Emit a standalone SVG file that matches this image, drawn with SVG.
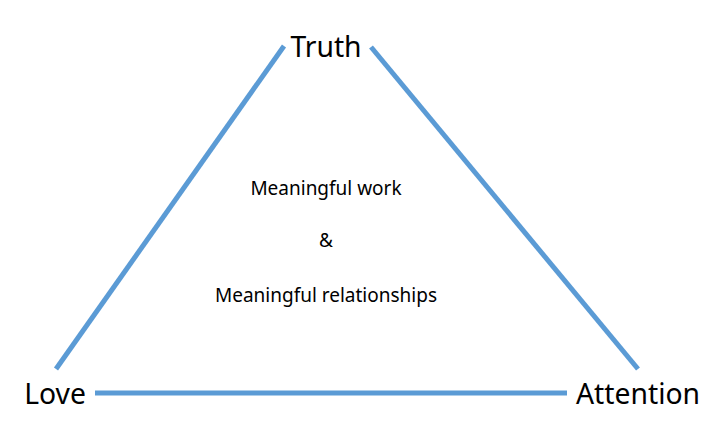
<svg xmlns="http://www.w3.org/2000/svg" width="714" height="434" viewBox="0 0 714 434">
<style>
.edge{stroke:#5B9BD5;stroke-width:5;fill:none}
.lbl{font-family:"Noto Sans","Open Sans","DejaVu Sans",sans-serif;fill:#000;text-anchor:middle}
.big{font-size:28.3px}
.small{font-size:19px}
</style>
<rect width="714" height="434" fill="#fff"/>
<g id="connectors">
<line class="edge" x1="56" y1="369" x2="284" y2="46"/>
<line class="edge" x1="371" y1="47" x2="638" y2="369"/>
<line class="edge" x1="95" y1="393" x2="567" y2="393"/>
</g>
<g id="truth"><text class="lbl big" x="326" y="57">Truth</text></g>
<g id="love"><text class="lbl big" x="55" y="404">Love</text></g>
<g id="attention"><text class="lbl big" x="638" y="404">Attention</text></g>
<g id="center">
<text class="lbl small" x="326" y="195">Meaningful work</text>
<text class="lbl small" x="326" y="247">&amp;</text>
<text class="lbl small" x="326" y="302">Meaningful relationships</text>
</g>
</svg>
